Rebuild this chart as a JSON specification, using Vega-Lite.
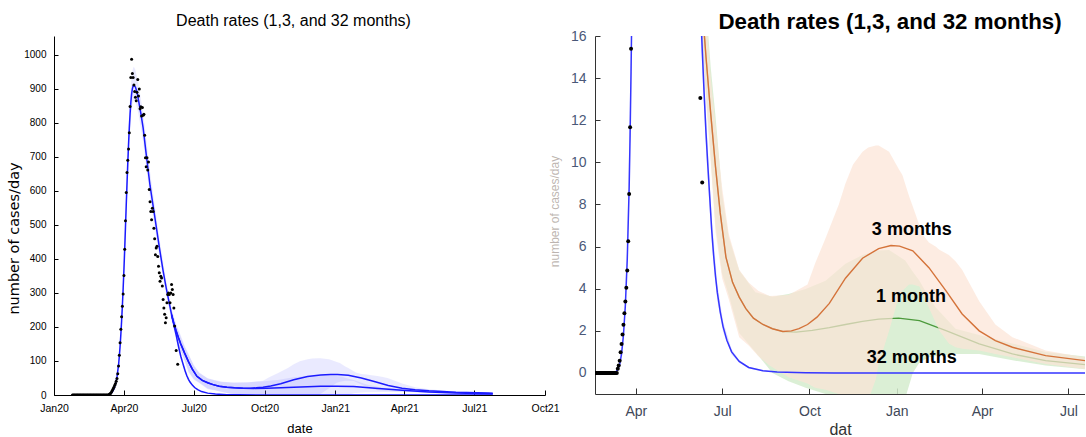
{
  "$schema": "https://vega.github.io/schema/vega-lite/v6.json",
  "background": "white",
  "padding": {"left": 6, "top": 10, "right": 0, "bottom": 0},
  "config": {"view": {"stroke": null}, "font": "Liberation Sans"},
  "spacing": 50,
  "bounds": "flush",
  "datasets": {
    "pts": [
      {"d":"2020-01-25","v":0},{"d":"2020-01-26","v":0},{"d":"2020-01-27","v":0},{"d":"2020-01-28","v":0},{"d":"2020-01-29","v":0},{"d":"2020-01-30","v":0},{"d":"2020-01-31","v":0},
      {"d":"2020-02-01","v":0},{"d":"2020-02-02","v":0},{"d":"2020-02-03","v":0},{"d":"2020-02-04","v":0},{"d":"2020-02-05","v":0},{"d":"2020-02-06","v":0},{"d":"2020-02-07","v":0},{"d":"2020-02-08","v":0},{"d":"2020-02-09","v":0},{"d":"2020-02-10","v":0},
      {"d":"2020-02-11","v":0},{"d":"2020-02-12","v":0},{"d":"2020-02-13","v":0},{"d":"2020-02-14","v":0},{"d":"2020-02-15","v":0},{"d":"2020-02-16","v":0},{"d":"2020-02-17","v":0},{"d":"2020-02-18","v":0},{"d":"2020-02-19","v":0},{"d":"2020-02-20","v":0},
      {"d":"2020-02-21","v":0},{"d":"2020-02-22","v":0},{"d":"2020-02-23","v":0},{"d":"2020-02-24","v":0},{"d":"2020-02-25","v":0},{"d":"2020-02-26","v":0},{"d":"2020-02-27","v":0},{"d":"2020-02-28","v":0},{"d":"2020-02-29","v":0},
      {"d":"2020-03-01","v":0},{"d":"2020-03-02","v":0},{"d":"2020-03-03","v":0},{"d":"2020-03-04","v":0},{"d":"2020-03-05","v":0},{"d":"2020-03-06","v":0},{"d":"2020-03-07","v":0},{"d":"2020-03-08","v":0},{"d":"2020-03-09","v":0},{"d":"2020-03-10","v":0},{"d":"2020-03-11","v":0},{"d":"2020-03-12","v":0},
      {"d":"2020-03-13","v":2},{"d":"2020-03-14","v":3.5},{"d":"2020-03-15","v":5.8},{"d":"2020-03-16","v":9.8},{"d":"2020-03-17","v":13.8},{"d":"2020-03-18","v":18.3},{"d":"2020-03-19","v":22.9},{"d":"2020-03-20","v":28.3},
      {"d":"2020-03-21","v":33.9},{"d":"2020-03-22","v":40.4},{"d":"2020-03-23","v":48.6},{"d":"2020-03-24","v":62.5},{"d":"2020-03-25","v":85},{"d":"2020-03-26","v":116.7},{"d":"2020-03-27","v":153.9},{"d":"2020-03-28","v":193},
      {"d":"2020-03-29","v":230},{"d":"2020-03-30","v":261},{"d":"2020-03-31","v":297},{"d":"2020-04-01","v":351},{"d":"2020-04-02","v":428},{"d":"2020-04-03","v":512},{"d":"2020-04-04","v":595},{"d":"2020-04-05","v":654},
      {"d":"2020-04-06","v":690},{"d":"2020-04-07","v":723},{"d":"2020-04-08","v":771},{"d":"2020-04-09","v":848},{"d":"2020-04-10","v":933},{"d":"2020-04-11","v":987},{"d":"2020-04-12","v":945},{"d":"2020-04-13","v":933},
      {"d":"2020-04-14","v":911},{"d":"2020-04-15","v":892},{"d":"2020-04-16","v":875},{"d":"2020-04-17","v":865},{"d":"2020-04-18","v":890},{"d":"2020-04-19","v":927},{"d":"2020-04-20","v":879},{"d":"2020-04-21","v":899},
      {"d":"2020-04-22","v":841},{"d":"2020-04-23","v":847},{"d":"2020-04-24","v":820},{"d":"2020-04-25","v":845},{"d":"2020-04-26","v":822},{"d":"2020-04-27","v":825},{"d":"2020-04-28","v":763},{"d":"2020-04-29","v":697},
      {"d":"2020-04-30","v":671},{"d":"2020-05-01","v":697},{"d":"2020-05-02","v":661},{"d":"2020-05-03","v":685},{"d":"2020-05-04","v":604},{"d":"2020-05-05","v":568},{"d":"2020-05-06","v":539},{"d":"2020-05-07","v":515},
      {"d":"2020-05-08","v":549},{"d":"2020-05-09","v":539},{"d":"2020-05-10","v":490},{"d":"2020-05-11","v":459},{"d":"2020-05-12","v":412},{"d":"2020-05-13","v":432},{"d":"2020-05-14","v":437},{"d":"2020-05-15","v":407},
      {"d":"2020-05-16","v":378},{"d":"2020-05-17","v":359},{"d":"2020-05-18","v":334},{"d":"2020-05-19","v":349},{"d":"2020-05-20","v":344},{"d":"2020-05-21","v":320},{"d":"2020-05-22","v":281},{"d":"2020-05-23","v":256},
      {"d":"2020-05-24","v":237},{"d":"2020-05-25","v":212},{"d":"2020-05-26","v":227},{"d":"2020-05-27","v":271},{"d":"2020-05-28","v":295},{"d":"2020-05-29","v":300},{"d":"2020-05-30","v":295},{"d":"2020-05-31","v":271},
      {"d":"2020-06-01","v":300},{"d":"2020-06-02","v":325},{"d":"2020-06-03","v":310},{"d":"2020-06-04","v":295},{"d":"2020-06-05","v":256},{"d":"2020-06-06","v":203},{"d":"2020-06-08","v":130.5},{"d":"2020-06-10","v":90.4}
    ],
    "fit": [
      {"d":"2020-01-25","s":"32 months","v":0},{"d":"2020-02-25","s":"32 months","v":0},{"d":"2020-03-03","s":"32 months","v":0.05},{"d":"2020-03-07","s":"32 months","v":0.2},
      {"d":"2020-03-11","s":"32 months","v":0.6},{"d":"2020-03-13","s":"32 months","v":1.5},{"d":"2020-03-15","s":"32 months","v":4},{"d":"2020-03-17","s":"32 months","v":9},
      {"d":"2020-03-19","s":"32 months","v":18},{"d":"2020-03-21","s":"32 months","v":32},{"d":"2020-03-23","s":"32 months","v":54},{"d":"2020-03-25","s":"32 months","v":88},
      {"d":"2020-03-26","s":"32 months","v":113},{"d":"2020-03-27","s":"32 months","v":143},{"d":"2020-03-28","s":"32 months","v":178},{"d":"2020-03-29","s":"32 months","v":218},
      {"d":"2020-03-30","s":"32 months","v":263},{"d":"2020-03-31","s":"32 months","v":313},{"d":"2020-04-01","s":"32 months","v":368},{"d":"2020-04-02","s":"32 months","v":428},
      {"d":"2020-04-03","s":"32 months","v":492},{"d":"2020-04-04","s":"32 months","v":557},{"d":"2020-04-05","s":"32 months","v":620},{"d":"2020-04-06","s":"32 months","v":680},
      {"d":"2020-04-07","s":"32 months","v":735},{"d":"2020-04-08","s":"32 months","v":785},{"d":"2020-04-09","s":"32 months","v":826},{"d":"2020-04-10","s":"32 months","v":860},
      {"d":"2020-04-11","s":"32 months","v":884},{"d":"2020-04-12","s":"32 months","v":900},{"d":"2020-04-13","s":"32 months","v":908},{"d":"2020-04-14","s":"32 months","v":910},
      {"d":"2020-04-16","s":"32 months","v":905},{"d":"2020-04-18","s":"32 months","v":890},{"d":"2020-04-20","s":"32 months","v":866},{"d":"2020-04-23","s":"32 months","v":828},
      {"d":"2020-04-26","s":"32 months","v":785},{"d":"2020-04-30","s":"32 months","v":708},{"d":"2020-05-05","s":"32 months","v":615},{"d":"2020-05-11","s":"32 months","v":526},
      {"d":"2020-05-17","s":"32 months","v":435},{"d":"2020-05-22","s":"32 months","v":365},{"d":"2020-05-26","s":"32 months","v":315},{"d":"2020-05-30","s":"32 months","v":270},
      {"d":"2020-06-02","s":"32 months","v":236},{"d":"2020-06-05","s":"32 months","v":206},{"d":"2020-06-08","s":"32 months","v":176},{"d":"2020-06-10","s":"32 months","v":154},
      {"d":"2020-06-12","s":"32 months","v":133},{"d":"2020-06-14","s":"32 months","v":114},{"d":"2020-06-16","s":"32 months","v":98},{"d":"2020-06-18","s":"32 months","v":83},
      {"d":"2020-06-20","s":"32 months","v":68},{"d":"2020-06-22","s":"32 months","v":56},{"d":"2020-06-24","s":"32 months","v":46},{"d":"2020-06-26","s":"32 months","v":38},
      {"d":"2020-06-29","s":"32 months","v":29},{"d":"2020-07-02","s":"32 months","v":22},{"d":"2020-07-06","s":"32 months","v":15.5},{"d":"2020-07-11","s":"32 months","v":10},
      {"d":"2020-07-19","s":"32 months","v":5.5},{"d":"2020-07-29","s":"32 months","v":2.6},{"d":"2020-08-13","s":"32 months","v":1},{"d":"2020-08-28","s":"32 months","v":0.4},
      {"d":"2020-09-27","s":"32 months","v":0.1},{"d":"2020-10-27","s":"32 months","v":0.02},{"d":"2021-07-25","s":"32 months","v":0},

      {"d":"2020-06-02","s":"3 months","v":236},{"d":"2020-06-05","s":"3 months","v":210},{"d":"2020-06-08","s":"3 months","v":188},{"d":"2020-06-11","s":"3 months","v":168},
      {"d":"2020-06-14","s":"3 months","v":150},{"d":"2020-06-19","s":"3 months","v":123},{"d":"2020-06-24","s":"3 months","v":98},{"d":"2020-06-29","s":"3 months","v":76},
      {"d":"2020-07-05","s":"3 months","v":55},{"d":"2020-07-12","s":"3 months","v":43},{"d":"2020-07-19","s":"3 months","v":36},{"d":"2020-07-26","s":"3 months","v":30.5},
      {"d":"2020-08-03","s":"3 months","v":26},{"d":"2020-08-13","s":"3 months","v":23},{"d":"2020-08-23","s":"3 months","v":21},{"d":"2020-09-03","s":"3 months","v":19.7},
      {"d":"2020-09-12","s":"3 months","v":20},{"d":"2020-09-20","s":"3 months","v":21},{"d":"2020-09-29","s":"3 months","v":23},{"d":"2020-10-09","s":"3 months","v":26.5},
      {"d":"2020-10-22","s":"3 months","v":33},{"d":"2020-11-08","s":"3 months","v":45},{"d":"2020-11-26","s":"3 months","v":54.5},{"d":"2020-12-13","s":"3 months","v":59},
      {"d":"2020-12-26","s":"3 months","v":60.5},{"d":"2021-01-04","s":"3 months","v":60.2},{"d":"2021-01-18","s":"3 months","v":58},{"d":"2021-02-04","s":"3 months","v":50},
      {"d":"2021-02-22","s":"3 months","v":39},{"d":"2021-03-11","s":"3 months","v":28},{"d":"2021-03-29","s":"3 months","v":20},{"d":"2021-04-15","s":"3 months","v":15.3},
      {"d":"2021-05-03","s":"3 months","v":12.2},{"d":"2021-06-07","s":"3 months","v":8.2},{"d":"2021-07-19","s":"3 months","v":5.8},{"d":"2021-07-25","s":"3 months","v":5.5},

      {"d":"2020-06-02","s":"1 month","v":236},{"d":"2020-06-05","s":"1 month","v":210},{"d":"2020-06-08","s":"1 month","v":188},{"d":"2020-06-11","s":"1 month","v":168},
      {"d":"2020-06-14","s":"1 month","v":150},{"d":"2020-06-19","s":"1 month","v":123},{"d":"2020-06-24","s":"1 month","v":98},{"d":"2020-06-29","s":"1 month","v":76},
      {"d":"2020-07-05","s":"1 month","v":55},{"d":"2020-07-12","s":"1 month","v":43},{"d":"2020-07-19","s":"1 month","v":36},{"d":"2020-07-26","s":"1 month","v":30.5},
      {"d":"2020-08-03","s":"1 month","v":26},{"d":"2020-08-13","s":"1 month","v":23},{"d":"2020-08-23","s":"1 month","v":21},{"d":"2020-09-03","s":"1 month","v":19.6},
      {"d":"2020-09-17","s":"1 month","v":19.4},{"d":"2020-10-04","s":"1 month","v":20.2},{"d":"2020-10-22","s":"1 month","v":21.5},{"d":"2020-11-08","s":"1 month","v":23},
      {"d":"2020-11-26","s":"1 month","v":24.5},{"d":"2020-12-13","s":"1 month","v":25.6},{"d":"2021-01-03","s":"1 month","v":26},{"d":"2021-01-25","s":"1 month","v":24.8},
      {"d":"2021-02-22","s":"1 month","v":20.1},{"d":"2021-03-29","s":"1 month","v":13.8},{"d":"2021-05-03","s":"1 month","v":9},{"d":"2021-06-07","s":"1 month","v":5.8},
      {"d":"2021-07-19","s":"1 month","v":3.9},{"d":"2021-07-25","s":"1 month","v":3.7}
    ],
    "band": [
      {"d":"2020-03-11","s":"32 months","v":0.5,"v2":0.7},{"d":"2020-03-15","s":"32 months","v":3.6,"v2":4.5},{"d":"2020-03-19","s":"32 months","v":16,"v2":20},
      {"d":"2020-03-23","s":"32 months","v":49,"v2":60},{"d":"2020-03-27","s":"32 months","v":130,"v2":158},{"d":"2020-03-31","s":"32 months","v":290,"v2":340},
      {"d":"2020-04-04","s":"32 months","v":520,"v2":600},{"d":"2020-04-08","s":"32 months","v":740,"v2":840},{"d":"2020-04-11","s":"32 months","v":840,"v2":940},
      {"d":"2020-04-13","s":"32 months","v":865,"v2":962},{"d":"2020-04-14","s":"32 months","v":868,"v2":965},{"d":"2020-04-16","s":"32 months","v":862,"v2":955},
      {"d":"2020-04-20","s":"32 months","v":825,"v2":912},{"d":"2020-04-26","s":"32 months","v":745,"v2":830},{"d":"2020-05-05","s":"32 months","v":580,"v2":655},
      {"d":"2020-05-17","s":"32 months","v":410,"v2":462},{"d":"2020-05-26","s":"32 months","v":295,"v2":336},{"d":"2020-06-02","s":"32 months","v":220,"v2":252},
      {"d":"2020-06-08","s":"32 months","v":164,"v2":188},{"d":"2020-06-14","s":"32 months","v":106,"v2":122},{"d":"2020-06-20","s":"32 months","v":62,"v2":74},
      {"d":"2020-06-26","s":"32 months","v":34,"v2":42},{"d":"2020-07-02","s":"32 months","v":19.5,"v2":24.5},{"d":"2020-07-11","s":"32 months","v":8.8,"v2":11.2},
      {"d":"2020-07-19","s":"32 months","v":4.8,"v2":6.2},{"d":"2020-07-29","s":"32 months","v":2.1,"v2":3.1},{"d":"2020-08-13","s":"32 months","v":0.7,"v2":1.3},
      {"d":"2020-08-28","s":"32 months","v":0.2,"v2":0.6},{"d":"2020-09-27","s":"32 months","v":0,"v2":0.2},{"d":"2020-10-27","s":"32 months","v":0,"v2":0.05},
      {"d":"2021-07-25","s":"32 months","v":0,"v2":0.02},

      {"d":"2020-06-02","s":"3 months","v":222,"v2":250},{"d":"2020-06-08","s":"3 months","v":172,"v2":205},{"d":"2020-06-14","s":"3 months","v":130,"v2":170},
      {"d":"2020-06-19","s":"3 months","v":100,"v2":140},{"d":"2020-06-24","s":"3 months","v":67,"v2":118},{"d":"2020-07-01","s":"3 months","v":45,"v2":88},
      {"d":"2020-07-08","s":"3 months","v":35,"v2":66},{"d":"2020-07-19","s":"3 months","v":17,"v2":49},{"d":"2020-07-29","s":"3 months","v":13,"v2":43},
      {"d":"2020-08-08","s":"3 months","v":8,"v2":39},{"d":"2020-08-20","s":"3 months","v":3.5,"v2":36.5},{"d":"2020-09-09","s":"3 months","v":-2,"v2":37},
      {"d":"2020-09-29","s":"3 months","v":-5,"v2":42},{"d":"2020-10-07","s":"3 months","v":-7,"v2":52},{"d":"2020-10-18","s":"3 months","v":-8,"v2":64},
      {"d":"2020-11-01","s":"3 months","v":-10,"v2":80},{"d":"2020-11-08","s":"3 months","v":-11,"v2":90},{"d":"2020-11-16","s":"3 months","v":-12,"v2":99},
      {"d":"2020-11-26","s":"3 months","v":-13,"v2":105},{"d":"2020-12-02","s":"3 months","v":-13,"v2":107},{"d":"2020-12-10","s":"3 months","v":-3,"v2":108},
      {"d":"2020-12-13","s":"3 months","v":4,"v2":108},{"d":"2020-12-24","s":"3 months","v":20,"v2":105},{"d":"2021-01-03","s":"3 months","v":36,"v2":97},
      {"d":"2021-01-07","s":"3 months","v":39,"v2":94},{"d":"2021-01-14","s":"3 months","v":42,"v2":84},{"d":"2021-01-18","s":"3 months","v":42,"v2":79},
      {"d":"2021-01-25","s":"3 months","v":41,"v2":70},{"d":"2021-01-28","s":"3 months","v":38,"v2":66},{"d":"2021-02-04","s":"3 months","v":31,"v2":62},
      {"d":"2021-02-11","s":"3 months","v":24,"v2":60},{"d":"2021-02-15","s":"3 months","v":20,"v2":58.5},{"d":"2021-02-25","s":"3 months","v":14,"v2":56},
      {"d":"2021-03-04","s":"3 months","v":12.2,"v2":53},{"d":"2021-03-11","s":"3 months","v":11.5,"v2":49},{"d":"2021-03-29","s":"3 months","v":10.6,"v2":34},
      {"d":"2021-04-15","s":"3 months","v":9,"v2":23},{"d":"2021-05-03","s":"3 months","v":7.4,"v2":17},{"d":"2021-06-07","s":"3 months","v":4.3,"v2":10.6},
      {"d":"2021-07-19","s":"3 months","v":1.9,"v2":7.3},{"d":"2021-07-25","s":"3 months","v":1.8,"v2":7},

      {"d":"2020-06-02","s":"1 month","v":225,"v2":252},{"d":"2020-06-08","s":"1 month","v":175,"v2":208},{"d":"2020-06-14","s":"1 month","v":132,"v2":175},
      {"d":"2020-06-19","s":"1 month","v":102,"v2":145},{"d":"2020-06-24","s":"1 month","v":70,"v2":122},{"d":"2020-07-01","s":"1 month","v":47,"v2":85},
      {"d":"2020-07-08","s":"1 month","v":37,"v2":64.4},{"d":"2020-07-19","s":"1 month","v":19,"v2":48.6},{"d":"2020-08-05","s":"1 month","v":10,"v2":38.3},
      {"d":"2020-08-23","s":"1 month","v":0,"v2":36.2},{"d":"2020-09-09","s":"1 month","v":-4,"v2":37.5},{"d":"2020-09-27","s":"1 month","v":-7,"v2":39.9},
      {"d":"2020-10-18","s":"1 month","v":-10,"v2":43.8},{"d":"2020-11-08","s":"1 month","v":-12,"v2":51.8},{"d":"2020-11-26","s":"1 month","v":-14,"v2":56},
      {"d":"2020-12-13","s":"1 month","v":-14,"v2":58.1},{"d":"2020-12-24","s":"1 month","v":-14,"v2":58.4},{"d":"2021-01-10","s":"1 month","v":-12,"v2":53.4},
      {"d":"2021-01-18","s":"1 month","v":0,"v2":48},{"d":"2021-01-25","s":"1 month","v":5,"v2":43.8},{"d":"2021-02-04","s":"1 month","v":7.4,"v2":36},
      {"d":"2021-02-11","s":"1 month","v":8,"v2":31.2},{"d":"2021-03-04","s":"1 month","v":9,"v2":21},{"d":"2021-03-29","s":"1 month","v":9,"v2":18},
      {"d":"2021-05-03","s":"1 month","v":6,"v2":14},{"d":"2021-06-07","s":"1 month","v":3.5,"v2":10},{"d":"2021-07-25","s":"1 month","v":1.5,"v2":7.5}
    ],
    "lab": [
      {"d":"2021-01-17","v":68,"t":"3 months"},
      {"d":"2021-01-16","v":36,"t":"1 month"},
      {"d":"2021-01-17","v":7,"t":"32 months"}
    ]
  },
  "hconcat": [
    {
      "width": 491,
      "height": 359,
      "title": {"text": "Death rates (1,3, and 32 months)", "font": "Liberation Sans", "fontSize": 16, "fontWeight": "normal", "color": "#000000", "offset": 7, "dx": -6},
      "encoding": {
        "x": {"field": "d", "type": "temporal", "title": "date",
          "scale": {"domain": [{"year": 2020, "month": 1, "date": 1}, {"year": 2021, "month": 10, "date": 1}]},
          "axis": {"format": "%b%y", "tickCount": {"interval": "month", "step": 3}, "grid": false, "labelFlush": false, "labelOverlap": false,
            "labelFont": "Liberation Sans", "labelFontSize": 10.5, "labelColor": "#000000", "labelPadding": 13,
            "tickSize": -5, "tickColor": "#000000", "domainColor": "#000000",
            "titleFont": "Liberation Sans", "titleFontSize": 13, "titleFontWeight": "normal", "titleColor": "#000000",
            "titleY": 33, "titleBaseline": "middle"}},
        "y": {"field": "v", "type": "quantitative", "title": "number of cases/day",
          "scale": {"domain": [0, 1055], "nice": false, "zero": false},
          "axis": {"values": [0, 100, 200, 300, 400, 500, 600, 700, 800, 900, 1000], "format": "d", "grid": false,
            "labelFont": "Liberation Sans", "labelFontSize": 10, "labelColor": "#000000", "labelPadding": 12,
            "tickSize": -4, "tickColor": "#000000", "domainColor": "#000000",
            "titleFont": "DejaVu Sans", "titleFontSize": 14.5, "titleFontWeight": "normal", "titleColor": "#000000",
            "titleX": -40, "titleY": 202, "titleBaseline": "middle"}}
      },
      "layer": [
        {"data": {"name": "band"}, "mark": {"type": "area", "color": "#6f6fff", "opacity": 0.15, "clip": true},
          "encoding": {"y2": {"field": "v2"}, "detail": {"field": "s"}}},
        {"data": {"name": "fit"}, "mark": {"type": "line", "color": "#1b1bff", "strokeWidth": 1.5, "clip": true},
          "encoding": {"detail": {"field": "s"}}},
        {"data": {"name": "pts"}, "mark": {"type": "circle", "color": "#000000", "size": 9, "opacity": 1, "clip": true},
          "encoding": {}}
      ]
    },
    {
      "width": 490,
      "height": 358,
      "title": {"text": "Death rates (1,3, and 32 months)", "font": "Liberation Sans", "fontSize": 22.3, "fontWeight": "bold", "color": "#000000", "dx": 50, "offset": -4},
      "encoding": {
        "x": {"field": "d", "type": "temporal", "title": "dat",
          "scale": {"domain": [{"year": 2020, "month": 2, "date": 18}, {"year": 2021, "month": 7, "date": 18, "hours": 12}]},
          "axis": {"format": "%b", "tickCount": {"interval": "month", "step": 3}, "grid": false, "labelFlush": false, "labelOverlap": false,
            "labelFont": "Liberation Sans", "labelFontSize": 14, "labelColor": "#404858", "labelPadding": 16,
            "tickSize": -6, "tickColor": "#333333", "domainColor": "#333333",
            "titleFont": "Liberation Sans", "titleFontSize": 16, "titleFontWeight": "normal", "titleColor": "#333333",
            "titleY": 35, "titleBaseline": "middle"}},
        "y": {"field": "v", "type": "quantitative", "title": "number of cases/day",
          "scale": {"domain": [-10, 160], "nice": false, "zero": false},
          "axis": {"values": [0, 20, 40, 60, 80, 100, 120, 140, 160], "labelExpr": "datum.value / 10", "grid": false,
            "labelFont": "Liberation Sans", "labelFontSize": 14, "labelColor": "#4a5878", "labelPadding": 14,
            "tickSize": -5, "tickColor": "#333333", "domainColor": "#333333",
            "titleFont": "Liberation Sans", "titleFontSize": 12, "titleFontWeight": "normal", "titleColor": "#7a6a60", "titleOpacity": 0.5,
            "titleX": -41, "titleY": 175, "titleBaseline": "middle"}}
      },
      "layer": [
        {"data": {"name": "band"}, "transform": [{"filter": "datum.s == '1 month'"}],
          "mark": {"type": "area", "color": "#d5ecce", "opacity": 0.85, "clip": true}, "encoding": {"y2": {"field": "v2"}}},
        {"data": {"name": "fit"}, "transform": [{"filter": "datum.s == '1 month'"}],
          "mark": {"type": "line", "color": "#4c9a3c", "strokeWidth": 1.3, "clip": true}, "encoding": {}},
        {"data": {"name": "band"}, "transform": [{"filter": "datum.s == '3 months'"}],
          "mark": {"type": "area", "color": "#fce4d6", "opacity": 0.7, "clip": true}, "encoding": {"y2": {"field": "v2"}}},
        {"data": {"name": "fit"}, "transform": [{"filter": "datum.s == '3 months'"}],
          "mark": {"type": "line", "color": "#d4733a", "strokeWidth": 1.4, "clip": true}, "encoding": {}},
        {"data": {"name": "band"}, "transform": [{"filter": "datum.s == '32 months'"}],
          "mark": {"type": "area", "color": "#6f6fff", "opacity": 0.2, "clip": true}, "encoding": {"y2": {"field": "v2"}}},
        {"data": {"name": "fit"}, "transform": [{"filter": "datum.s == '32 months'"}],
          "mark": {"type": "line", "color": "#3535ff", "strokeWidth": 1.5, "clip": true}, "encoding": {}},
        {"data": {"name": "pts"}, "mark": {"type": "circle", "color": "#000000", "size": 16, "opacity": 1, "clip": true}, "encoding": {}},
        {"data": {"name": "lab"}, "mark": {"type": "text", "font": "Liberation Sans", "fontSize": 18, "fontWeight": "bold", "color": "#000000", "align": "center", "baseline": "middle"},
          "encoding": {"text": {"field": "t"}}}
      ]
    }
  ]
}
